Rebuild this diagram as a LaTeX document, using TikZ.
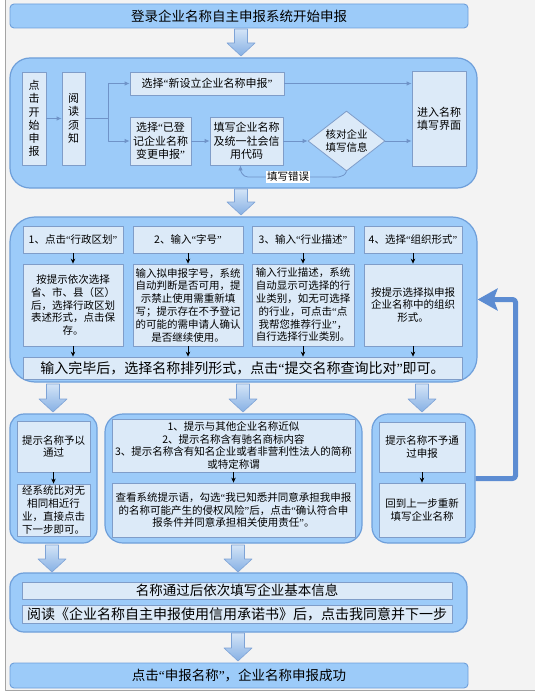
\documentclass[tikz,border=0pt]{standalone}
\usepackage{fontspec}
\setmainfont{Noto Sans CJK SC}
\newfontfamily\quotefont{Liberation Serif}
\newcommand{\qo}{{\quotefont “}}
\newcommand{\qc}{{\quotefont ”}}
\usetikzlibrary{shapes.geometric,arrows.meta}

\definecolor{bggray}{HTML}{F3F3F3}
\definecolor{framegray}{HTML}{A4A4A4}
\definecolor{panelblue}{HTML}{9CCBF9}
\definecolor{paneledge}{HTML}{6E9FDA}
\definecolor{boxfill}{HTML}{DCEAF8}
\definecolor{boxedge}{HTML}{7F9DC9}
\definecolor{flowblue}{HTML}{6F93C8}
\definecolor{arrowtop}{HTML}{D3E4F7}
\definecolor{arrowbot}{HTML}{86B0E4}
\definecolor{arrowedge}{HTML}{7EA3D6}
\definecolor{loopblue}{HTML}{5C8CD2}

\begin{document}
\begin{tikzpicture}[x=1pt,y=-1pt,line join=round,
  panel/.style={draw=paneledge,fill=panelblue,line width=1.2pt,rounded corners=#1,inner sep=0pt},
  panel/.default=18pt,
  cell/.style={draw=boxedge,fill=boxfill,line width=0.8pt,inner sep=1pt,align=center,
    font=\fontsize{10.5}{12.8}\selectfont},
  wide/.style={cell,font=\fontsize{11}{13.3}\selectfont},
  bar/.style={draw=paneledge,fill=panelblue,line width=0.9pt,rounded corners=4pt,inner sep=0pt,
    font=\fontsize{13.5}{16}\selectfont},
  decide/.style={diamond,draw=boxedge,fill=boxfill,line width=0.8pt,aspect=1.28,inner sep=0pt,
    minimum width=77pt,minimum height=60pt,align=center,font=\fontsize{10.5}{12.8}\selectfont},
  flow/.style={draw=flowblue,line width=0.8pt,-{Latex[length=5pt,width=4.5pt]}},
  drop/.style={draw=black,line width=0.7pt,-{Stealth[length=5pt,width=4.5pt]}},
  errtag/.style={fill=white,inner sep=1pt,font=\fontsize{10.5}{12}\selectfont},
  bigarrow/.style={draw=arrowedge,line width=0.6pt,top color=arrowtop,bottom color=arrowbot},
  loopback/.style={draw=loopblue,line width=5pt,rounded corners=3pt,
    -{Stealth[length=20pt,width=22pt,inset=4pt]}}]

  % background and frame
  \useasboundingbox (0,0) rectangle (535,695);
  \fill[white] (0,0) rectangle (535,695);
  \fill[bggray] (5,0) rectangle (535,690);
  \draw[framegray,line width=0.8pt] (5,0) -- (5,690) -- (535,690);

  % panels
  \node[panel=20pt,minimum width=467pt,minimum height=130pt] (p1) at (243.5,123) {};
  \node[panel=25pt,minimum width=467pt,minimum height=165pt] (p2) at (243.5,299.5) {};
  \node[panel=14pt,minimum width=87pt,minimum height=129pt] (p3l) at (53.5,478.5) {};
  \node[panel=18pt,minimum width=257pt,minimum height=129pt] (p3m) at (233.5,478.5) {};
  \node[panel=16pt,minimum width=103pt,minimum height=129pt] (p3r) at (423.5,478.5) {};
  \node[panel=14pt,minimum width=457pt,minimum height=59pt] (p4) at (238.5,602.5) {};

  % big arrows between stages
  \foreach \ax/\at/\ab in {241/29/56,241/189/215,53/384/412,243/384/412,422/384/412,
                           52/545/572,238/545/572,238/633/661} {
    \draw[bigarrow] (\ax-6.5,\at) -- (\ax+6.5,\at) -- (\ax+6.5,\ab-13) -- (\ax+14,\ab-13)
      -- (\ax,\ab) -- (\ax-14,\ab-13) -- (\ax-6.5,\ab-13) -- cycle;
  }

  \node[bar,minimum width=458pt,minimum height=24pt] (login) at (239,16) {登录企业名称自主申报系统开始申报};

  % stage 1
  \node[wide,minimum width=24pt,minimum height=93pt] (start) at (34,118.5) {点\\击\\开\\始\\申\\报};
  \node[wide,minimum width=23pt,minimum height=93pt] (notice) at (73.5,118.5) {阅\\读\\须\\知};
  \node[wide,minimum width=154pt,minimum height=23pt] (newreg) at (207,83.5) {选择\qo 新设立企业名称申报\qc};
  \node[wide,minimum width=61pt,minimum height=48pt] (change) at (160.5,141) {选择\qo 已登\\记企业名称\\变更申报\qc};
  \node[wide,minimum width=73pt,minimum height=48pt] (credit) at (246.5,141) {填写企业名称\\及统一社会信\\用代码};
  \node[decide] (check) at (346.5,141) {核对企业\\填写信息};
  \node[wide,minimum width=54pt,minimum height=95pt] (enter) at (439,118.5) {进入名称\\填写界面};
  \coordinate (split) at (108,118.5);

  \draw[flow] (start) -- (notice);
  \draw[flowblue,line width=0.8pt] (notice.east) -- (split);
  \draw[flow] (split) |- (newreg.west);
  \draw[flow] (split) |- (change.west);
  \draw[flow] (newreg.east) -- (newreg.east -| enter.west);
  \draw[flow] (change) -- (credit);
  \draw[flow] (credit) -- (check);
  \draw[flow] (check.east) -- (check.east -| enter.west);
  \draw[flow] (check.south) to[out=-110,in=0] (328,177) -- node[errtag] {填写错误} (248,177)
    to[out=180,in=-90] ([xshift=-6pt]credit.south);

  % stage 2
  \node[cell,minimum width=100pt,minimum height=27pt] (area) at (73,239.5) {1、点击\qo 行政区划\qc};
  \node[cell,minimum width=110pt,minimum height=27pt] (word) at (188,239.5) {2、输入\qo 字号\qc};
  \node[cell,minimum width=102pt,minimum height=27pt] (trade) at (303,239.5) {3、输入\qo 行业描述\qc};
  \node[cell,minimum width=98pt,minimum height=27pt] (form) at (413,239.5) {4、选择\qo 组织形式\qc};

  \node[cell,minimum width=100pt,minimum height=82pt] (area-tx) at (73,305)
    {按提示依次选择\\省、市、县（区）\\后，选择行政区划\\表述形式，点击保\\存。};
  \node[cell,minimum width=110pt,minimum height=82pt] (word-tx) at (188,305)
    {输入拟申报字号，系统\\自动判断是否可用，提\\示禁止使用需重新填\\写；提示存在不予登记\\的可能的需申请人确认\\是否继续使用。};
  \node[cell,minimum width=102pt,minimum height=82pt] (trade-tx) at (303,305)
    {输入行业描述，系统\\自动显示可选择的行\\业类别，如无可选择\\的行业，可点击\qo 点\\我帮您推荐行业\qc，\\自行选择行业类别。};
  \node[cell,minimum width=98pt,minimum height=82pt] (form-tx) at (413,305)
    {按提示选择拟申报\\企业名称中的组织\\形式。};

  \node[cell,minimum width=439pt,minimum height=22pt,font=\fontsize{14}{16}\selectfont] (submit) at (242.5,368)
    {输入完毕后，选择名称排列形式，点击\qo 提交名称查询比对\qc 即可。};

  \foreach \n in {area,word,trade,form} {
    \draw[drop] (\n) -- (\n-tx);
    \draw[drop] (\n-tx.south) -- (\n-tx.south |- submit.north);
  }

  % stage 3
  \node[cell,minimum width=73pt,minimum height=51pt] (passA) at (53.5,446.5) {提示名称予以\\通过};
  \node[cell,minimum width=73pt,minimum height=52pt] (passB) at (53.5,510) {经系统比对无\\相同相近行\\业，直接点击\\下一步即可。};
  \node[cell,minimum width=243pt,minimum height=53pt] (warn) at (233.5,445.5)
    {1、提示与其他企业名称近似\\2、提示名称含有驰名商标内容\\3、提示名称含有知名企业或者非营利性法人的简称\\或特定称谓};
  \node[cell,minimum width=243pt,minimum height=54pt] (confirm) at (233.5,510)
    {查看系统提示语，勾选\qo 我已知悉并同意承担我申报\\的名称可能产生的侵权风险\qc 后，点击\qo 确认符合申\\报条件并同意承担相关使用责任\qc。};
  \node[cell,minimum width=86pt,minimum height=50pt] (reject) at (422,447) {提示名称不予通\\过申报};
  \node[cell,minimum width=86pt,minimum height=54pt] (retry) at (422,510) {回到上一步重新\\填写企业名称};

  \draw[drop] (passA) -- (passB);
  \draw[drop] (warn) -- (confirm);
  \draw[drop] (reject) -- (retry);
  \draw[loopback] (p3r.east) -- ++(40,0) |- (p2.east);

  % stage 4
  \node[cell,minimum width=430pt,minimum height=17pt,font=\fontsize{13.5}{15}\selectfont] (info) at (237,590.5)
    {名称通过后依次填写企业基本信息};
  \node[cell,minimum width=430pt,minimum height=18pt,font=\fontsize{14}{16}\selectfont] (pledge) at (237,614)
    {阅读《企业名称自主申报使用信用承诺书》后，点击我同意并下一步};

  \node[bar,minimum width=458pt,minimum height=25pt] (done) at (239,675.5) {点击\qo 申报名称\qc，企业名称申报成功};
\end{tikzpicture}
\end{document}
